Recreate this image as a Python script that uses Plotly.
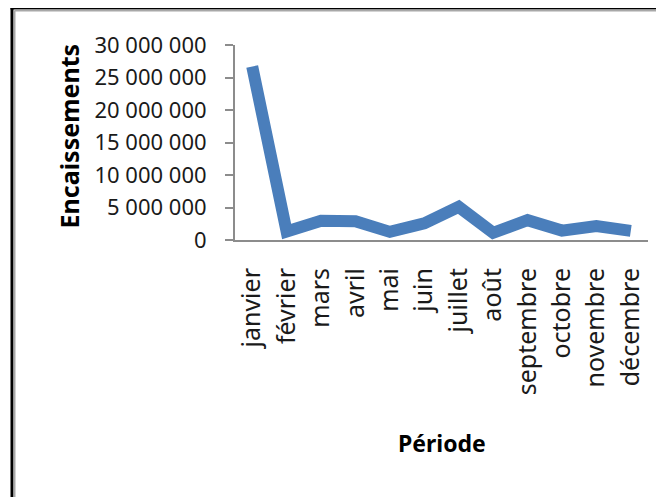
import plotly.graph_objects as go

months = ["janvier", "février", "mars", "avril", "mai", "juin", "juillet",
          "août", "septembre", "octobre", "novembre", "décembre"]
encaissements = [26700000, 1300000, 2950000, 2900000, 1250000, 2550000, 5100000,
                 1100000, 3050000, 1450000, 2150000, 1400000]
y_tickvals = [0, 5000000, 10000000, 15000000, 20000000, 25000000, 30000000]
y_ticktext = ["0", "5 000 000", "10 000 000", "15 000 000", "20 000 000",
              "25 000 000", "30 000 000"]

OFF = 8  # page body margin
W, H = 664 - OFF, 497 - OFF
L, T = 235 - OFF, 45 - OFF
R = W - (648 - OFF)
B = H - (240 - OFF)
pw, ph = W - L - R, H - T - B

def px(x):
    return (x - OFF - L) / pw

def py(y):
    return (H - B - (y - OFF)) / ph

fig = go.Figure()
fig.add_trace(go.Scatter(
    x=months, y=encaissements, mode="lines",
    line=dict(color="#4A7EBB", width=12),
    hoverinfo="x+y", showlegend=False,
))

noto = "Noto Sans, Open Sans, sans-serif"

fig.update_layout(
    width=W, height=H,
    margin=dict(l=L, r=R, t=T, b=B, pad=0),
    paper_bgcolor="white", plot_bgcolor="white",
    xaxis=dict(
        type="category", range=[-0.5, 11.5],
        showgrid=False, zeroline=False,
        showline=True, linecolor="#8C8C8C", linewidth=2,
        ticks="", tickangle=-90,
        tickfont=dict(family=noto, size=25, color="#1a1a1a"),
        ticklabelstandoff=16,
    ),
    yaxis=dict(
        range=[0, 30000000],
        tickvals=y_tickvals, ticktext=y_ticktext,
        showgrid=False, zeroline=False,
        showline=True, linecolor="#8C8C8C", linewidth=2,
        ticks="outside", ticklen=8, tickcolor="#8C8C8C", tickwidth=2,
        tickfont=dict(family=noto, size=22, color="#1a1a1a"),
        ticklabelstandoff=14,
    ),
    annotations=[
        dict(text="<b>Encaissements</b>", textangle=-90, xref="paper", yref="paper",
             x=px(68), y=py(136.5), showarrow=False,
             font=dict(family=noto, size=25, color="#000000"),
             xanchor="center", yanchor="middle"),
        dict(text="<b>Période</b>", xref="paper", yref="paper",
             x=px(442), y=py(443), showarrow=False,
             font=dict(family=noto, size=23, color="#000000"),
             xanchor="center", yanchor="middle"),
    ],
    shapes=[
        dict(type="line", xref="paper", yref="paper", x0=px(12), x1=px(12),
             y0=py(8), y1=py(520), line=dict(color="black", width=3)),
        dict(type="line", xref="paper", yref="paper", x0=px(10.5), x1=px(700),
             y0=py(8), y1=py(8), line=dict(color="black", width=3)),
        dict(type="line", xref="paper", yref="paper", x0=px(14.5), x1=px(14.5),
             y0=py(10.5), y1=py(520), line=dict(color="#A8A8A8", width=2)),
        dict(type="line", xref="paper", yref="paper", x0=px(14.5), x1=px(700),
             y0=py(10.5), y1=py(10.5), line=dict(color="#A8A8A8", width=2)),
    ],
)

fig.write_html("out.html")
